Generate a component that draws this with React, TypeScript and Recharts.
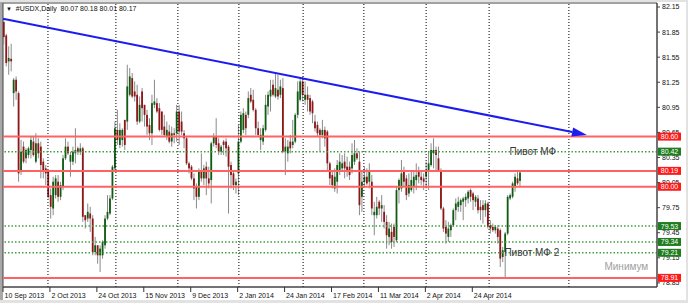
import React from "react";
import {
  ComposedChart, Bar, XAxis, YAxis, ReferenceLine, ReferenceArea, ReferenceDot,
} from "recharts";

const FONT = "Liberation Sans, Arial, sans-serif";

// daily candles, USDX, 10 Sep 2013 .. mid May 2014 (one slot per bar)
const opens = [
  81.97, 81.81, 81.50, 81.53, 81.12, 81.28, 81.12, 80.18, 80.48, 80.34,
  80.38, 80.44, 80.54, 80.30, 80.52, 80.48, 80.30, 80.22, 80.18, 79.90,
  79.74, 79.90, 80.06, 79.88, 80.00, 80.34, 80.48, 80.30, 80.30, 80.40,
  80.46, 80.42, 80.46, 79.66, 79.62, 79.68, 79.62, 79.22, 79.30, 79.18,
  79.18, 79.30, 79.62, 79.68, 79.86, 80.22, 80.68, 80.50, 80.56, 80.80,
  80.78, 81.10, 81.30, 81.14, 81.10, 80.78, 81.14, 80.98, 80.86, 80.74,
  80.64, 80.98, 81.00, 80.94, 80.90, 80.72, 80.60, 80.66, 80.54, 80.64,
  80.64, 80.90, 80.78, 80.64, 80.58, 80.28, 80.24, 80.10, 80.00, 79.88,
  80.18, 80.10, 80.24, 80.10, 80.08, 80.52, 80.60, 80.52, 80.42, 80.54,
  80.54, 80.48, 80.26, 80.16, 80.02, 80.16, 80.54, 80.68, 80.86, 80.86,
  81.10, 81.04, 80.92, 80.70, 80.56, 80.54, 80.68, 80.96, 81.08, 81.22,
  81.08, 81.16, 81.10, 81.18, 80.42, 80.40, 80.54, 80.50, 80.54, 80.86,
  81.04, 81.26, 81.04, 81.10, 81.06, 81.02, 80.78, 80.74, 80.68, 80.62,
  80.68, 80.66, 80.28, 80.14, 79.98, 80.06, 80.18, 80.22, 80.30, 80.24,
  80.24, 80.22, 80.30, 80.40, 80.30, 79.88, 80.06, 80.12, 80.06, 80.06,
  79.66, 79.66, 79.82, 79.74, 79.70, 79.58, 79.40, 79.46, 79.52, 79.36,
  79.96, 79.98, 80.18, 80.10, 79.92, 79.96, 80.00, 80.08, 80.18, 80.12,
  80.10, 80.12, 80.18, 80.26, 80.40, 80.44, 80.34, 80.20, 79.74, 79.52,
  79.40, 79.48, 79.54, 79.72, 79.76, 79.78, 79.82, 79.84, 79.86, 79.96,
  79.92, 79.82, 79.86, 79.76, 79.78, 79.72, 79.80, 79.54, 79.52, 79.48,
  79.50, 79.48, 79.16, 79.22, 79.44, 79.86, 79.88, 80.00, 80.10, 80.07,
];
const highs = [
  82.00, 81.83, 81.68, 81.71, 81.30, 81.32, 81.14, 80.56, 80.54, 80.46,
  80.48, 80.60, 80.60, 80.64, 80.58, 80.54, 80.34, 80.26, 80.18, 79.98,
  80.12, 80.14, 80.14, 80.06, 80.38, 80.58, 80.54, 80.42, 80.48, 80.70,
  80.48, 80.52, 80.48, 79.66, 79.80, 79.76, 79.66, 79.40, 79.30, 79.30,
  79.36, 79.66, 79.90, 79.90, 80.26, 80.78, 80.92, 80.76, 80.70, 80.80,
  81.46, 81.42, 81.36, 81.26, 81.22, 81.08, 81.18, 80.98, 80.92, 80.82,
  81.10, 81.28, 81.06, 81.00, 80.90, 80.86, 80.78, 80.74, 80.72, 80.70,
  80.98, 80.98, 80.90, 80.68, 80.60, 80.30, 80.26, 80.16, 80.04, 80.22,
  80.40, 80.26, 80.30, 80.24, 80.54, 80.64, 80.82, 80.58, 80.50, 80.56,
  80.58, 80.50, 80.30, 80.18, 80.10, 80.74, 80.90, 80.94, 80.90, 81.14,
  81.18, 81.16, 80.94, 80.78, 80.70, 80.74, 81.10, 81.14, 81.28, 81.28,
  81.36, 81.34, 81.28, 81.30, 80.58, 80.56, 80.62, 80.80, 80.88, 81.26,
  81.30, 81.32, 81.26, 81.20, 81.10, 81.04, 80.86, 80.78, 80.70, 80.80,
  80.72, 80.68, 80.30, 80.18, 80.22, 80.32, 80.40, 80.38, 80.40, 80.36,
  80.30, 80.52, 80.56, 80.46, 80.42, 80.20, 80.24, 80.22, 80.28, 80.14,
  79.82, 79.88, 79.84, 79.90, 79.78, 79.66, 79.58, 79.56, 79.56, 80.00,
  80.10, 80.32, 80.24, 80.14, 80.16, 80.20, 80.20, 80.28, 80.24, 80.20,
  80.16, 80.30, 80.42, 80.52, 80.58, 80.48, 80.48, 80.22, 79.76, 79.60,
  79.58, 79.56, 79.74, 79.86, 79.88, 79.86, 79.88, 79.92, 79.96, 79.98,
  79.94, 79.90, 79.90, 79.84, 79.84, 79.84, 79.82, 79.60, 79.56, 79.54,
  79.54, 79.50, 79.28, 79.46, 79.90, 79.92, 80.06, 80.16, 80.18, 80.18,
];
const lows = [
  81.70, 81.44, 81.34, 81.38, 80.96, 81.04, 80.06, 80.14, 80.28, 80.28,
  80.34, 80.34, 80.36, 80.28, 80.34, 80.10, 80.10, 80.02, 79.86, 79.62,
  79.66, 79.86, 79.82, 79.84, 79.96, 80.32, 80.38, 80.12, 80.26, 80.28,
  80.38, 80.38, 79.58, 79.50, 79.58, 79.46, 79.18, 79.18, 79.08, 78.98,
  79.14, 79.26, 79.60, 79.66, 79.84, 80.20, 80.50, 80.46, 80.48, 80.44,
  80.68, 81.08, 81.06, 81.02, 80.74, 80.76, 80.78, 80.72, 80.62, 80.56,
  80.50, 80.94, 80.88, 80.66, 80.62, 80.60, 80.56, 80.52, 80.48, 80.52,
  80.54, 80.50, 80.62, 80.46, 80.26, 80.16, 80.08, 79.84, 79.74, 79.84,
  80.06, 80.02, 79.90, 79.98, 79.80, 80.48, 80.46, 80.38, 80.38, 80.38,
  80.36, 79.68, 79.98, 79.96, 79.92, 79.90, 80.52, 80.64, 80.62, 80.82,
  81.00, 80.90, 80.62, 80.60, 80.44, 80.50, 80.66, 80.86, 80.90, 81.08,
  81.06, 81.04, 81.06, 80.40, 80.14, 80.30, 80.40, 80.46, 80.52, 80.82,
  81.02, 81.02, 80.98, 80.90, 80.86, 80.76, 80.66, 80.60, 80.42, 80.58,
  80.48, 80.18, 80.02, 79.98, 79.94, 79.92, 80.14, 80.18, 80.10, 80.12,
  80.08, 80.16, 80.26, 80.32, 79.66, 79.70, 80.00, 80.02, 79.98, 79.66,
  79.42, 79.62, 79.66, 79.58, 79.50, 79.26, 79.30, 79.26, 79.28, 79.34,
  79.80, 79.94, 80.00, 79.84, 79.88, 79.94, 79.92, 79.96, 80.04, 80.02,
  79.96, 79.98, 79.96, 80.24, 80.22, 80.20, 80.18, 79.72, 79.46, 79.32,
  79.34, 79.40, 79.52, 79.60, 79.70, 79.70, 79.60, 79.76, 79.80, 79.82,
  79.72, 79.76, 79.68, 79.60, 79.56, 79.64, 79.50, 79.44, 79.46, 79.44,
  79.32, 79.04, 79.10, 78.91, 79.42, 79.84, 79.86, 79.94, 80.02, 80.01,
];
const closes = [
  81.79, 81.48, 81.54, 81.50, 81.28, 81.14, 80.16, 80.42, 80.30, 80.44,
  80.46, 80.56, 80.38, 80.52, 80.40, 80.26, 80.20, 80.16, 79.88, 79.76,
  80.06, 80.10, 79.88, 80.02, 80.34, 80.48, 80.40, 80.38, 80.42, 80.44,
  80.42, 80.46, 79.64, 79.60, 79.70, 79.62, 79.22, 79.30, 79.18, 79.26,
  79.34, 79.62, 79.70, 79.86, 80.24, 80.70, 80.56, 80.68, 80.68, 80.50,
  81.20, 81.32, 81.08, 81.08, 80.78, 80.98, 80.94, 80.86, 80.72, 80.64,
  81.00, 81.02, 80.90, 80.68, 80.68, 80.62, 80.68, 80.54, 80.64, 80.62,
  80.90, 80.66, 80.66, 80.58, 80.28, 80.22, 80.10, 79.98, 79.88, 80.18,
  80.10, 80.22, 80.10, 80.04, 80.52, 80.60, 80.50, 80.42, 80.48, 80.50,
  80.46, 80.24, 80.14, 80.02, 80.06, 80.54, 80.86, 80.88, 80.70, 81.06,
  81.02, 80.92, 80.70, 80.62, 80.62, 80.70, 80.98, 81.10, 81.16, 81.10,
  81.18, 81.08, 81.20, 80.42, 80.48, 80.48, 80.46, 80.54, 80.86, 81.14,
  81.26, 81.10, 81.10, 81.04, 80.90, 80.88, 80.70, 80.64, 80.62, 80.68,
  80.58, 80.28, 80.10, 80.02, 80.12, 80.26, 80.30, 80.28, 80.22, 80.18,
  80.14, 80.38, 80.40, 80.34, 79.78, 80.06, 80.12, 80.04, 80.18, 79.74,
  79.70, 79.76, 79.74, 79.78, 79.58, 79.42, 79.50, 79.34, 79.40, 79.96,
  80.08, 80.16, 80.06, 79.90, 80.02, 80.08, 80.12, 80.14, 80.12, 80.08,
  80.06, 80.20, 80.28, 80.44, 80.44, 80.38, 80.20, 79.74, 79.50, 79.44,
  79.50, 79.54, 79.72, 79.80, 79.82, 79.84, 79.86, 79.88, 79.94, 79.88,
  79.84, 79.88, 79.72, 79.72, 79.72, 79.80, 79.52, 79.50, 79.48, 79.52,
  79.40, 79.14, 79.24, 79.44, 79.88, 79.90, 80.04, 80.12, 80.04, 80.17,
];

const xTicks = [0, 19, 38, 57, 76, 95, 114, 133, 152, 171, 190];
const xLabels = [
  "10 Sep 2013", "2 Oct 2013", "24 Oct 2013", "15 Nov 2013", "9 Dec 2013",
  "2 Jan 2014", "24 Jan 2014", "17 Feb 2014", "11 Mar 2014", "2 Apr 2014", "24 Apr 2014",
];
const yTicks = [82.15, 81.85, 81.55, 81.25, 80.95, 80.65, 80.35, 80.05, 79.75, 79.45, 79.15, 78.85];

// month separators (bar slots)
const monthGrid = [17.8, 45.3, 70.4, 95.1, 121.1, 145.7, 170.9, 196.4, 228.7];

// horizontal levels: solid red ones and dotted green pivots
const levelPrices = [80.60, 80.42, 80.19, 80.00, 79.53, 79.34, 79.21, 78.91];
const levelKinds = ["red", "green", "red", "red", "green", "green", "green", "red"];

const trendStart = { x: -0.4, y: 82.01 };
const trendEnd = { x: 236, y: 80.62 };

const notes = [
  { x: 204.9, y: 80.42, text: "Пивот МФ", color: "#3a3a3a" },
  { x: 202.8, y: 79.21, text: "Пивот МФ 2", color: "#3a3a3a" },
  { x: 243.3, y: 79.05, text: "Минимум", color: "#a0a0a0" },
];

const X_MIN = -0.405;
const X_MAX = 264.37;
const Y_MIN = 78.801;
const Y_MAX = 82.198;

const BULL = "#0f5c12";
const BEAR = "#8e1616";
const WICK = "#8a8a8a";

const candles = opens.map((o, k) => ({
  i: k, open: o, high: highs[k], low: lows[k], close: closes[k],
}));

const Candle = (props: any) => {
  const { x, y, width, height, payload } = props;
  if (x == null || y == null || !payload) return null;
  const top = Math.min(y, y + height);
  const h = Math.abs(height);
  const { open, high, low, close } = payload;
  const ppu = h / (high - low || 1);
  const cx = x + width / 2;
  const bTop = top + (high - Math.max(open, close)) * ppu;
  const bBot = top + (high - Math.min(open, close)) * ppu;
  return (
    <g>
      <line x1={cx} x2={cx} y1={top} y2={top + h} stroke={WICK} strokeWidth={1} />
      <rect x={cx - 0.9} y={bTop} width={1.8} height={Math.max(1, bBot - bTop)} fill={close >= open ? BULL : BEAR} />
    </g>
  );
};

const XTick = (props: any) => {
  const { x, y, payload } = props;
  const k = xTicks.indexOf(payload.value);
  return (
    <g>
      <line x1={x - 1} x2={x - 1} y1={y} y2={y + 5} stroke="#333" />
      <text x={x + 0.5} y={y + 11} fontSize={7} fill="#111" fontFamily={FONT}>{xLabels[k]}</text>
    </g>
  );
};

// empty tick text: price numbers are drawn as reference labels so the level tags can sit on top
const NoTick = () => <g />;

const PriceText = (props: any) => {
  const { viewBox, text } = props;
  if (!viewBox) return null;
  return (
    <text x={viewBox.x + viewBox.width + 5} y={viewBox.y} dy="0.35em" fontSize={7} fill="#111" fontFamily={FONT}>{text}</text>
  );
};

const LevelTag = (props: any) => {
  const { viewBox, bg, text } = props;
  if (!viewBox) return null;
  const x = viewBox.x + viewBox.width + 1;
  const y = viewBox.y;
  return (
    <g>
      <rect x={x} y={y - 4} width={23} height={8} fill={bg} />
      <text x={x + 11.5} y={y} dy="0.35em" textAnchor="middle" fontSize={7} fill="#fff" fontFamily={FONT}>{text}</text>
    </g>
  );
};

const NoteText = (props: any) => {
  const { viewBox, text, color } = props;
  if (!viewBox) return null;
  return (
    <text x={viewBox.x} y={viewBox.y + viewBox.height / 2} dy="0.35em" fontSize={10} fill={color} fontFamily={FONT}>{text}</text>
  );
};

const TrendArrow = (props: any) => {
  const { x1, y1, x2, y2 } = props;
  const dx = x2 - x1;
  const dy = y2 - y1;
  const len = Math.sqrt(dx * dx + dy * dy) || 1;
  const ux = dx / len;
  const uy = dy / len;
  const bx = x2 - ux * 15;
  const by = y2 - uy * 15;
  const nx = -uy * 4.5;
  const ny = ux * 4.5;
  return (
    <g>
      <line x1={x1} y1={y1} x2={bx} y2={by} stroke="#1c1cf0" strokeWidth={2} />
      <polygon points={`${x2},${y2} ${bx + nx},${by + ny} ${bx - nx},${by - ny}`} fill="#1c1cf0" />
    </g>
  );
};

export default function App() {
  return (
    <div style={{ position: "relative", width: 688, height: 303, background: "#fff", fontFamily: FONT }}>
      <style>{`body{margin:0}`}</style>
      <div style={{ position: "absolute", left: 0, top: 0, width: 3, height: 303, background: "#a8a8a8" }} />
      <div style={{ position: "absolute", left: 0, top: 0, width: 688, height: 2, background: "#e2e2e2" }} />
      <div style={{ position: "absolute", left: 0, top: 300, width: 688, height: 3, background: "#e2e2e2" }} />
      <div style={{ position: "absolute", left: 686, top: 0, width: 2, height: 303, background: "#e2e2e2" }} />
      <div style={{ position: "absolute", left: 0, top: 0 }}>
        <ComposedChart width={688} height={303} data={candles} margin={{ top: 3, right: 0, bottom: 0, left: 3 }}>
          <XAxis
            type="number" dataKey="i" domain={[X_MIN, X_MAX]} allowDataOverflow
            ticks={xTicks} interval={0} height={16} tickSize={0} tickMargin={0}
            tickLine={false} axisLine={{ stroke: "#444" }} tick={<XTick />}
          />
          <YAxis
            orientation="right" type="number" domain={[Y_MIN, Y_MAX]} allowDataOverflow
            ticks={yTicks} interval={0} width={31} tickSize={3} tickMargin={2}
            tickLine={{ stroke: "#444" }} axisLine={{ stroke: "#444" }} tick={<NoTick />}
          />
          {monthGrid.map((g) => (
            <ReferenceLine key={`g${g}`} x={g} stroke="#000" strokeDasharray="1 2" strokeWidth={1} />
          ))}
          <Bar dataKey={(d: any) => [d.low, d.high]} shape={Candle} barSize={2} isAnimationActive={false} />
          {yTicks.map((t) => (
            <ReferenceLine key={`t${t}`} y={t} stroke="none" label={<PriceText text={t.toFixed(2)} />} />
          ))}
          {levelPrices.map((p, k) => (
            <ReferenceLine
              key={`l${p}`}
              y={p}
              stroke={levelKinds[k] === "red" ? "#ff6262" : "#3f9f3f"}
              strokeWidth={levelKinds[k] === "red" ? 2 : 1.5}
              strokeDasharray={levelKinds[k] === "red" ? undefined : "1.5 2"}
              label={<LevelTag bg={levelKinds[k] === "red" ? "#ff1a1a" : "#1e7d1e"} text={p.toFixed(2)} />}
            />
          ))}
          <ReferenceLine segment={[trendStart, trendEnd]} shape={TrendArrow} />
          {notes.map((n) => (
            <ReferenceDot
              key={n.text} x={n.x} y={n.y} r={0.5} fill="none" stroke="none"
              label={<NoteText text={n.text} color={n.color} />}
            />
          ))}
          <ReferenceArea x1={X_MIN} x2={X_MAX} y1={Y_MIN} y2={Y_MAX} fill="none" stroke="#444" ifOverflow="visible" />
        </ComposedChart>
      </div>
      <div style={{ position: "absolute", left: 6, top: 4, fontSize: 7, lineHeight: "10px", color: "#111", whiteSpace: "pre" }}>
        <span style={{ fontSize: 6 }}>▼</span>{"  #USDX,Daily  80.07 80.18 80.01 80.17"}
      </div>
    </div>
  );
}
